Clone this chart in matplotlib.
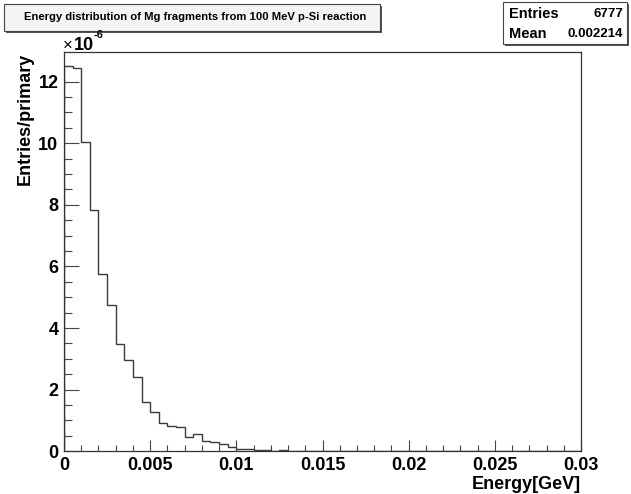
import numpy as np
import matplotlib.pyplot as plt
from matplotlib.patches import Rectangle
from matplotlib.ticker import MultipleLocator

plt.rcParams['font.family'] = ['Liberation Sans', 'DejaVu Sans']
plt.rcParams['font.weight'] = 'bold'

# histogram: 60 bins from 0 to 0.03 GeV, contents in units of 1e-6 entries/primary
e_min, e_max, n_bins = 0.0, 0.03, 60
counts_e6 = [12.51, 12.43, 10.05, 7.82, 5.75, 4.76, 3.49, 2.95, 2.40, 1.59,
             1.29, 0.91, 0.81, 0.79, 0.47, 0.55, 0.34, 0.30, 0.23, 0.14,
             0.08, 0.07, 0.05, 0.03, 0.02, 0.03, 0.02, 0.02, 0.01, 0.02,
             0.01, 0.0, 0.0, 0.0, 0.0, 0.0, 0.0, 0.0, 0.0, 0.0,
             0.0, 0.0, 0.0, 0.0, 0.0, 0.0, 0.0, 0.0, 0.0, 0.0,
             0.0, 0.0, 0.0, 0.0, 0.0, 0.0, 0.0, 0.0, 0.0, 0.0]
title = 'Energy distribution of Mg fragments from 100 MeV p-Si reaction'
stats_names = ['Entries', 'Mean']
stats_values = ['6777', '0.002214']
x_ticks = [0, 0.005, 0.01, 0.015, 0.02, 0.025, 0.03]
x_ticklabels = ['0', '0.005', '0.01', '0.015', '0.02', '0.025', '0.03']
y_ticks = [0, 2, 4, 6, 8, 10, 12]

W, H = 631, 494
fig = plt.figure(figsize=(W / 100, H / 100), dpi=100)
ax = fig.add_axes([64 / W, 1 - 451.3 / H, (581 - 64) / W, (451.3 - 52) / H])

edges = np.linspace(e_min, e_max, n_bins + 1)
ax.stairs(counts_e6, edges, color='#3a3a3a', lw=1.0, baseline=0)

ax.set_xlim(0, 0.03)
ax.set_ylim(0, 12.96)
ax.set_xticks(x_ticks)
ax.set_xticklabels(x_ticklabels)
ax.set_yticks(y_ticks)
ax.xaxis.set_minor_locator(MultipleLocator(0.001))
ax.yaxis.set_minor_locator(MultipleLocator(0.5))
ax.tick_params(axis='x', which='major', direction='in', length=8, width=0.8,
               labelsize=13, pad=4, color='#444444')
ax.tick_params(axis='x', which='minor', direction='in', length=4, width=0.8,
               color='#444444')
ax.tick_params(axis='y', which='major', direction='in', length=11, width=0.8,
               labelsize=13, pad=4, color='#444444')
ax.tick_params(axis='y', which='minor', direction='in', length=6, width=0.8,
               color='#444444')
for s in ax.spines.values():
    s.set_color('#333333')
    s.set_linewidth(0.9)

fig.text(25 / W, 1 - 53 / H, 'Entries/primary', rotation=90, ha='center',
         va='top', fontsize=13, fontweight='bold')
fig.text(581 / W, 1 - 493 / H, 'Energy[GeV]', ha='right', va='bottom',
         fontsize=13, fontweight='bold')
fig.text(63 / W, 1 - 50 / H, '\u00d7', ha='left', va='baseline',
         fontsize=12, fontweight='normal')
fig.text(74 / W, 1 - 50 / H, '10', ha='left', va='baseline',
         fontsize=13, fontweight='bold')
fig.text(94 / W, 1 - 38 / H, '-6', ha='left', va='baseline',
         fontsize=8, fontweight='bold')

# title box with shadow
fig.patches.append(Rectangle((6 / W, 1 - 33 / H), 376 / W, 27 / H,
                             transform=fig.transFigure, facecolor='#555555',
                             edgecolor='none'))
fig.patches.append(Rectangle((4 / W, 1 - 31 / H), 376 / W, 27 / H,
                             transform=fig.transFigure, facecolor='#f4f4f4',
                             edgecolor='#444444', lw=0.8))
fig.text(195 / W, 1 - 17.5 / H, title, ha='center', va='center',
         fontsize=8.1, fontweight='bold')

# stats box with shadow
fig.patches.append(Rectangle((505 / W, 1 - 46 / H), 124 / W, 42 / H,
                             transform=fig.transFigure, facecolor='#555555',
                             edgecolor='none'))
fig.patches.append(Rectangle((503 / W, 1 - 44 / H), 124 / W, 42 / H,
                             transform=fig.transFigure, facecolor='white',
                             edgecolor='#444444', lw=0.8))
for i, (name, val) in enumerate(zip(stats_names, stats_values)):
    yy = 1 - (14 + 20 * i) / H
    fig.text(509 / W, yy, name, ha='left', va='center', fontsize=10.5,
             fontweight='bold')
    fig.text(623 / W, yy, val, ha='right', va='center', fontsize=9.5,
             fontweight='bold')

fig.savefig('out.png', dpi=100)
